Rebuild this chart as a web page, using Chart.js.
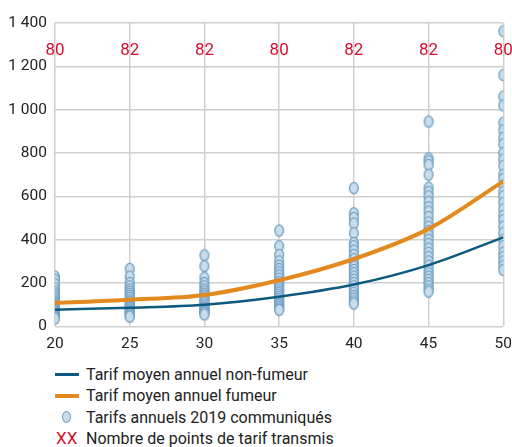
<!DOCTYPE html>
<html>
<head>
<meta charset="utf-8">
<script src="https://cdn.jsdelivr.net/npm/chart.js@4/dist/chart.umd.min.js"></script>
<style>
  html, body { margin: 0; padding: 0; background: #fff; }
  body { width: 512px; height: 447px; overflow: hidden; font-family: Roboto, "Liberation Sans", sans-serif; }
  #wrap { position: relative; width: 512px; height: 361px; overflow: hidden; }
  #legend { position: absolute; left: 0; top: 364px; width: 512px; font-size: 16px; color: #222; }
  .row { position: relative; height: 21.3px; line-height: 21px; }
  .sym { position: absolute; left: 55px; top: 0; width: 24px; height: 21px; }
  .txt { position: absolute; left: 86px; top: 0; white-space: nowrap; }
  .ln { position: absolute; left: 0; top: 9px; width: 24px; height: 3px; }
  .ell { position: absolute; left: 7px; top: 4px; width: 9px; height: 12px; border-radius: 50%; background: #c8dcea; border: 1.3px solid #6f9fc4; box-sizing: border-box; }
  .xx { position: absolute; left: 1px; top: 0; color: #d2102e; font-size: 17px; }
</style>
</head>
<body>
<div id="wrap"><canvas id="c" width="520" height="361"></canvas></div>
<div id="legend">
  <div class="row"><div class="sym"><div class="ln" style="background:#0d5a80;height:3px"></div></div><div class="txt">Tarif moyen annuel non-fumeur</div></div>
  <div class="row"><div class="sym"><div class="ln" style="background:#e38a1e;height:4px;top:9px"></div></div><div class="txt">Tarif moyen annuel fumeur</div></div>
  <div class="row"><div class="sym"><div class="ell"></div></div><div class="txt">Tarifs annuels 2019 communiqués</div></div>
  <div class="row"><div class="sym"><span class="xx">XX</span></div><div class="txt">Nombre de points de tarif transmis</div></div>
</div>
<script>
// ---- Data ----
const ages = [20, 25, 30, 35, 40, 45, 50];
const nonSmokerMean = [77, 86, 100, 137, 193, 283, 411];
const smokerMean = [108, 123, 145, 213, 311, 450, 669];
const pointCounts = [80, 82, 82, 80, 82, 82, 80];
const yTicks = [0, 200, 400, 600, 800, 1000, 1200, 1400];

const tariffs20 = [230, 215, 195, 175, 160, 150, 140, 130, 120, 112, 105, 98, 92, 86, 80, 75, 70, 65, 60, 55, 50, 45, 40, 36];
const tariffs25 = [265, 230, 200, 185, 170, 160, 150, 140, 130, 120, 112, 105, 98, 90, 84, 78, 72, 66, 60, 55, 50, 45];
const tariffs30 = [328, 278, 225, 200, 185, 170, 160, 150, 140, 130, 120, 110, 100, 92, 85, 78, 72, 66, 60, 55];
const tariffs35 = [442, 370, 330, 300, 280, 265, 250, 235, 220, 205, 195, 185, 175, 165, 155, 145, 135, 125, 115, 105, 98, 90, 82, 76];
const tariffs40 = [638, 522, 500, 475, 430, 385, 370, 350, 330, 310, 290, 275, 260, 245, 230, 215, 200, 185, 170, 155, 140, 128, 115, 105];
const tariffs45 = [945, 775, 762, 745, 700, 640, 620, 600, 575, 550, 530, 505, 480, 460, 440, 420, 400, 380, 360, 340, 320, 300, 280, 260, 245, 230, 215, 200, 185, 170, 160];
const tariffs50 = [1362, 1160, 1060, 1020, 940, 905, 870, 840, 800, 770, 740, 700, 680, 650, 620, 600, 570, 540, 510, 490, 460, 430, 400, 370, 340, 320, 300, 280, 260];
const tariffsByAge = [tariffs20, tariffs25, tariffs30, tariffs35, tariffs40, tariffs45, tariffs50];

// ---- Build datasets ----
const scatterPts = [];
tariffsByAge.forEach((arr, i) => arr.forEach(v => scatterPts.push({ x: ages[i], y: v })));
const nonPts = ages.map((a, i) => ({ x: a, y: nonSmokerMean[i] }));
const smkPts = ages.map((a, i) => ({ x: a, y: smokerMean[i] }));

// ellipse point image
const ell = document.createElement('canvas');
ell.width = 12; ell.height = 14;
(function () {
  const g = ell.getContext('2d');
  g.beginPath();
  g.ellipse(6, 7, 4.4, 5.6, 0, 0, Math.PI * 2);
  g.fillStyle = '#c8dcea';
  g.fill();
  g.lineWidth = 1.3;
  g.strokeStyle = '#6f9fc4';
  g.stroke();
})();

const countLabels = {
  id: 'countLabels',
  afterDatasetsDraw(chart) {
    const { ctx, scales: { x, y } } = chart;
    ctx.save();
    ctx.font = '17px Roboto, "Liberation Sans", sans-serif';
    ctx.fillStyle = '#d2102e';
    ctx.textAlign = 'center';
    ctx.textBaseline = 'middle';
    ages.forEach((a, i) => {
      ctx.fillText(String(pointCounts[i]), x.getPixelForValue(a), y.getPixelForValue(1272));
    });
    ctx.restore();
  }
};

new Chart(document.getElementById('c'), {
  type: 'scatter',
  data: {
    datasets: [
      { label: 'Tarif moyen annuel non-fumeur', type: 'line', data: nonPts, borderColor: '#0d5a80', borderWidth: 2.5, pointRadius: 0, cubicInterpolationMode: 'monotone', fill: false, order: 0 },
      { label: 'Tarif moyen annuel fumeur', type: 'line', data: smkPts, borderColor: '#e38a1e', borderWidth: 4, pointRadius: 0, cubicInterpolationMode: 'monotone', fill: false, order: 0 },
      { label: 'Tarifs annuels 2019 communiqués', data: scatterPts, pointStyle: ell, pointRadius: 5, order: 1 }
    ]
  },
  options: {
    responsive: false,
    animation: false,
    layout: { padding: { top: 23, right: 0, left: 0, bottom: 0 } },
    plugins: { legend: { display: false }, tooltip: { enabled: false } },
    scales: {
      x: {
        type: 'linear', min: 20, max: 50,
        afterBuildTicks(s) { s.ticks = ages.map(v => ({ value: v })); },
        grid: { color: '#cfcfcf', lineWidth: 1.5, drawTicks: false },
        border: { display: false },
        ticks: { padding: 8, color: '#222', font: { family: 'Roboto', size: 15.5 } }
      },
      y: {
        min: 0, max: 1400,
        afterBuildTicks(s) { s.ticks = yTicks.map(v => ({ value: v })); },
        afterFit(s) { s.width = 55; },
        grid: { color: '#cfcfcf', lineWidth: 1.5, drawTicks: false },
        border: { display: false },
        ticks: {
          padding: 8, color: '#222', font: { family: 'Roboto', size: 15.5 },
          callback: v => String(v).replace(/\B(?=(\d{3})+(?!\d))/g, ' ')
        }
      }
    }
  },
  plugins: [countLabels]
});
</script>
</body>
</html>
